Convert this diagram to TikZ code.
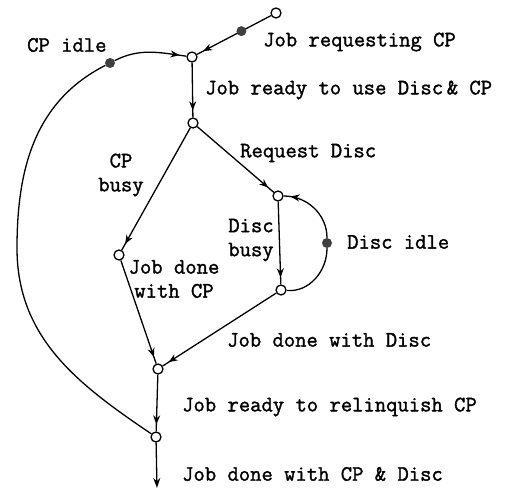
\documentclass[tikz,border=0pt]{standalone}
\usepackage{fontspec}
\usepackage{tikz}
\usetikzlibrary{arrows.meta,decorations.markings}

\newfontfamily\typewriter{Latin Modern Mono}[FakeBold=1.5]

\tikzset{
	place/.style={circle,draw,line width=1.3pt,fill=white,inner sep=0pt,minimum size=10pt},
	token/.style={circle,fill=black!75,inner sep=0pt,minimum size=10pt},
	arc/.style={line width=1.3pt,postaction={decorate},decoration={markings,
		mark=at position -7pt with {\arrow{Stealth[length=9pt,width=7pt]}}}},
	lbl/.style={font=\typewriter\fontsize{22}{24}\selectfont,inner sep=0pt},
}

\begin{document}
\begin{tikzpicture}[x=1pt,y=1pt]
	\useasboundingbox (0,0) rectangle (512,-490);

	% events
	\foreach \n/\x/\y in {p0/276/13,a/192/57,b/193/123,c/119/255,d/278/196,e/281/290,f/158/369,g/156/437}
		\node[place] (\n) at (\x,-\y) {};
	\coordinate (out) at (157,-488);

	% resources
	\node[token] (cp) at (110,-63) {};
	\node[token] (disc) at (327,-243) {};

	\draw[arc] (p0) -- node[token,pos=.4] (job) {} (a);
	\foreach \s/\t in {a/b,b/c,b/d,d/e,c/f,e/f,f/g}
		\draw[arc] (\s) -- (\t);
	\draw[line width=1.3pt,-{Stealth[length=10pt,width=7pt]}] (g) -- (out);

	\draw[arc] (g) to[out=146,in=-90] (17,-248) to[out=90,in=-153] (cp)
		to[out=27,in=172] (a);
	\draw[arc] (e) to[out=-5,in=-90] (disc) to[out=90,in=0] (d);

	\node[lbl,anchor=west] at (27,-45) {CP idle};
	\node[lbl,anchor=west] at (263,-42) {Job requesting CP};
	\node[lbl,anchor=west] at (205,-90) {Job ready to use Disc\,\& CP};
	\node[lbl,align=center] at (121,-175) {CP\\busy};
	\node[lbl,anchor=west] at (240,-153) {Request Disc};
	\node[lbl,align=center] at (251,-240) {Disc\\busy};
	\node[lbl,anchor=west] at (347,-242) {Disc idle};
	\node[lbl,align=center] at (174,-279) {Job done\\with CP};
	\node[lbl,anchor=west] at (227,-340) {Job done with Disc};
	\node[lbl,anchor=west] at (182,-407) {Job ready to relinquish CP};
	\node[lbl,anchor=west] at (182,-474) {Job done with CP \& Disc};
\end{tikzpicture}
\end{document}
